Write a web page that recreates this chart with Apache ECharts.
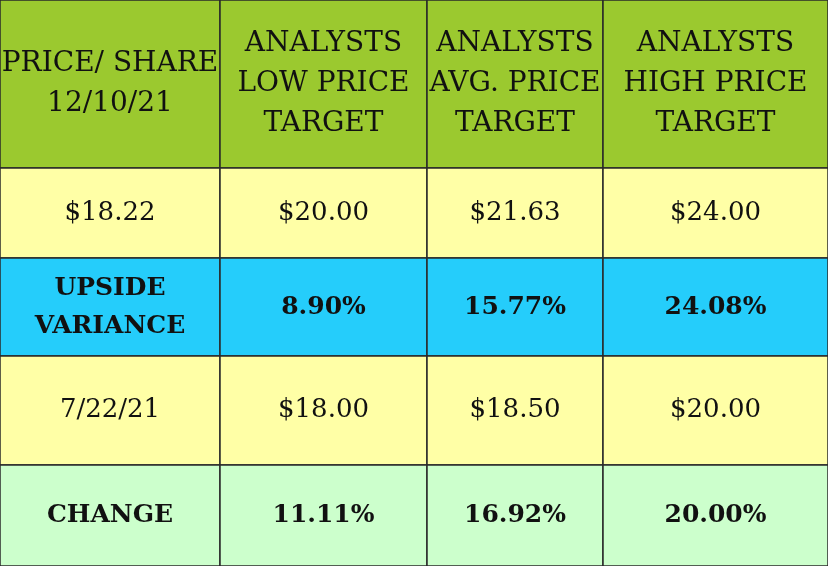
<!DOCTYPE html>
<html><head><meta charset="utf-8">
<script src="https://cdn.jsdelivr.net/npm/echarts@6/dist/echarts.min.js"></script>
<style>html,body{margin:0;padding:0;background:#fff}#c{width:828px;height:566px}</style>
</head><body><div id="c"></div>
<script>
const headers = ["PRICE/ SHARE\n12/10/21", "ANALYSTS\nLOW PRICE\nTARGET", "ANALYSTS\nAVG. PRICE\nTARGET", "ANALYSTS\nHIGH PRICE\nTARGET"];
const row1 = ["$18.22", "$20.00", "$21.63", "$24.00"];
const row2 = ["UPSIDE\nVARIANCE", "8.90%", "15.77%", "24.08%"];
const row3 = ["7/22/21", "$18.00", "$18.50", "$20.00"];
const row4 = ["CHANGE", "11.11%", "16.92%", "20.00%"];
const rows = [headers, row1, row2, row3, row4];
const colEdges = [0, 220, 427, 603, 828];
const rowEdges = [0, 168, 258, 356, 465, 566];
const rowColors = ["#9bc92f", "#ffffa6", "#25cdfb", "#ffffa6", "#ccffcc"];
const rowBold = [false, false, true, false, true];
const rowSize = [28, 26, 26, 26, 26];

const data = [];
rows.forEach((r, i) => r.forEach((t, j) => data.push([j, i, t])));

const chart = echarts.init(document.getElementById('c'));
chart.setOption({
  animation: false,
  grid: {left: 0, right: 0, top: 0, bottom: 0},
  xAxis: {type: 'value', min: 0, max: 828, show: false},
  yAxis: {type: 'value', min: 0, max: 566, inverse: true, show: false},
  series: [{
    type: 'custom',
    data: data,
    renderItem: (params, api) => {
      const j = api.value(0), i = api.value(1);
      const t = rows[i][j];
      const p0 = api.coord([colEdges[j], rowEdges[i]]);
      const p1 = api.coord([colEdges[j + 1], rowEdges[i + 1]]);
      return {
        type: 'group',
        children: [{
          type: 'rect',
          shape: {x: p0[0], y: p0[1], width: p1[0] - p0[0], height: p1[1] - p0[1]},
          style: {fill: rowColors[i], stroke: '#2a2a2a', lineWidth: 1.5}
        }, {
          type: 'text',
          style: {
            x: (p0[0] + p1[0]) / 2, y: (p0[1] + p1[1]) / 2,
            text: t, align: 'center', verticalAlign: 'middle',
            fontFamily: 'DejaVu Serif', fontSize: rowBold[i] ? 25 : rowSize[i],
            fontWeight: rowBold[i] ? 'bold' : 'normal',
            lineHeight: rowBold[i] ? 38 : 40, fill: '#111'
          }
        }]
      };
    }
  }]
});
</script></body></html>
